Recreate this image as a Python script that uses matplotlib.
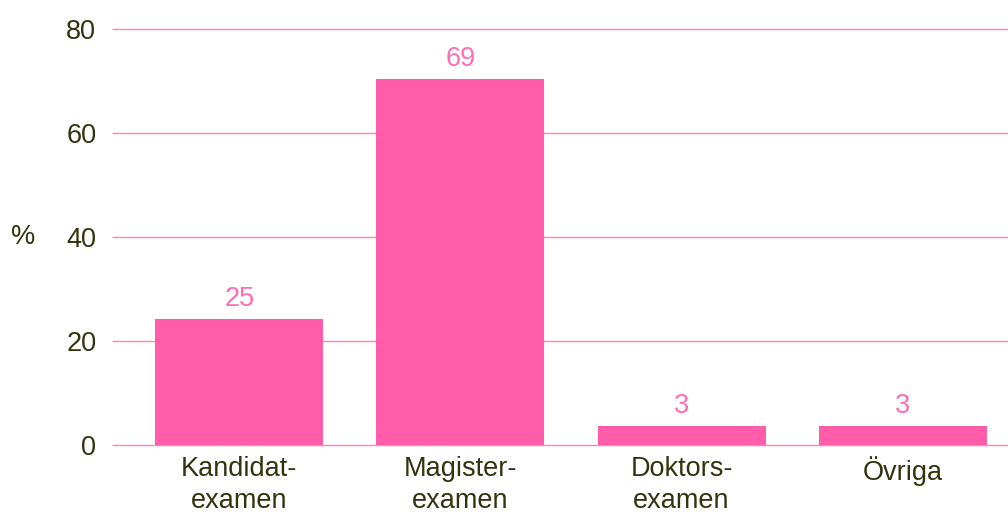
import matplotlib
matplotlib.use("Agg")
import matplotlib.pyplot as plt

categories = ["Kandidat-\nexamen", "Magister-\nexamen", "Doktors-\nexamen", "Övriga"]
values = [24.2, 70.4, 3.7, 3.7]
value_labels = ["25", "69", "3", "3"]
yticks = [0, 20, 40, 60, 80]

TEXT = "#33330f"
BAR = "#ff5caa"
GRID = "#ff80b8"
LABEL = "#ff6eb4"
FS = 19.5

plt.rcParams['font.family'] = ['Liberation Sans', 'DejaVu Sans']

fig = plt.figure(figsize=(10.08, 5.15), dpi=100)
ax = fig.add_axes([113/1008, 70/515, 1 - 113/1008, 416/515])

x = list(range(len(categories)))
ax.bar(x, values, width=0.76, color=BAR, zorder=3)
for xi, v, lab in zip(x, values, value_labels):
    ax.annotate(lab, (xi, v), xytext=(0, 14.5), textcoords="offset points",
                ha="center", va="center", color=LABEL, fontsize=FS)

ax.set_xlim(-0.572, 3.477)
ax.set_ylim(0, 80)
ax.set_yticks(yticks)
ax.set_yticklabels([str(t) for t in yticks])
ax.set_xticks(x)
ax.set_xticklabels(categories, linespacing=1.28)
ax.tick_params(axis="both", length=0, labelsize=FS, labelcolor=TEXT)
ax.tick_params(axis="y", pad=12)
ax.tick_params(axis="x", pad=8)
ax.yaxis.grid(True, color=GRID, linewidth=1)
for gl in ax.yaxis.get_gridlines():
    gl.set_clip_on(False)
ax.set_axisbelow(True)
for s in ax.spines.values():
    s.set_visible(False)
ax.set_ylabel("%", rotation=0, fontsize=FS, color=TEXT, labelpad=0,
              ha="center", va="center")
ax.yaxis.set_label_coords(-90/895, 0.5)

fig.savefig("out.png", dpi=100)
